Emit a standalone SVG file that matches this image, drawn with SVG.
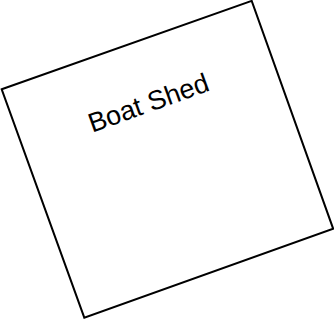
<svg xmlns="http://www.w3.org/2000/svg" width="334" height="320" viewBox="0 0 334 320">
<style>
.shape{fill:#ffffff;stroke:#000000;stroke-width:2}
.label{font-family:"Liberation Sans",Arial,sans-serif;font-size:27px;fill:#000000}
</style>
<rect x="0" y="0" width="334" height="320" fill="#ffffff"/>
<g id="boat-shed">
<polygon class="shape" points="1.7,89.3 251.7,0.9 333.2,228.8 84.3,317.6"/>
<text class="label" transform="translate(151.5,111.5) rotate(-19.7)" text-anchor="middle">Boat Shed</text>
</g>
<g id="connectors"></g>
</svg>
